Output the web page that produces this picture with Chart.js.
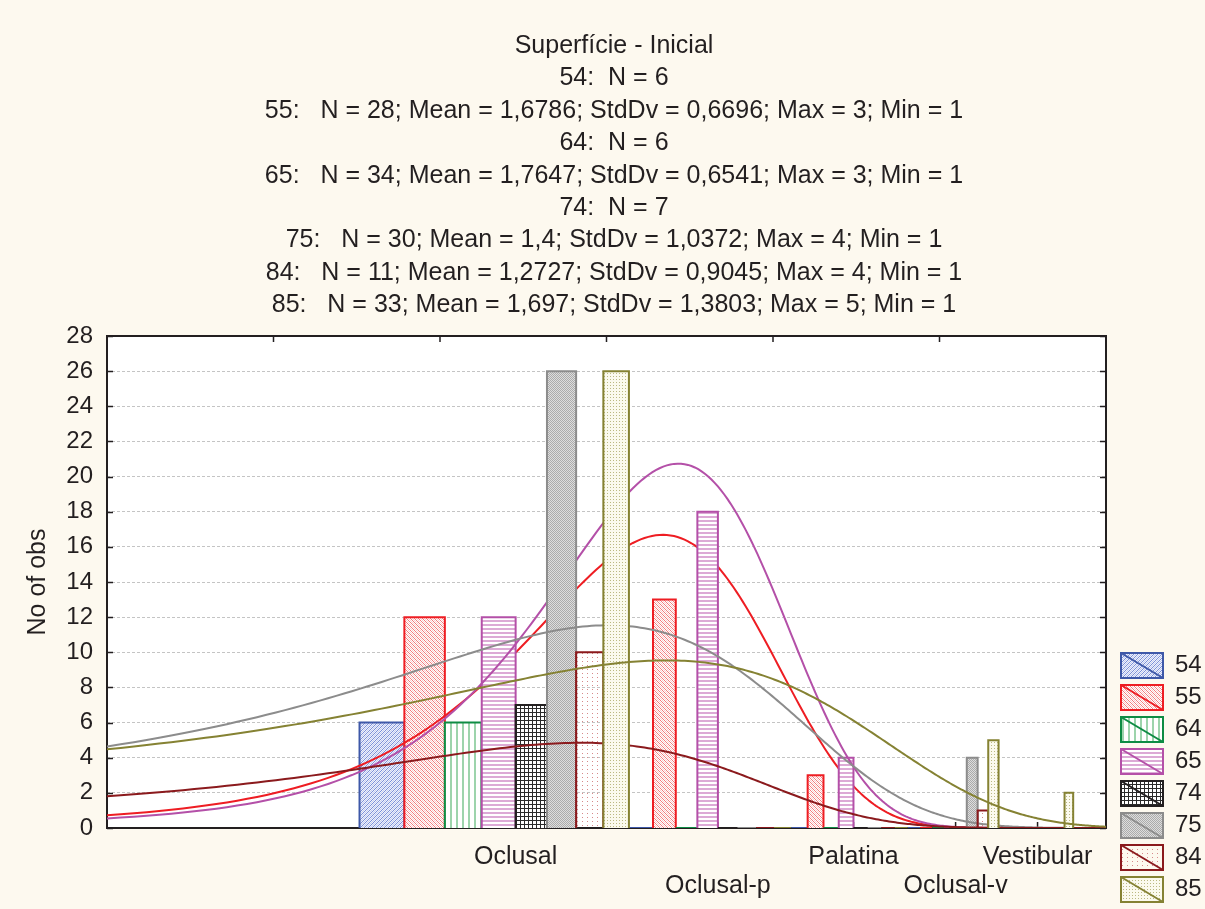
<!DOCTYPE html>
<html>
<head>
<meta charset="utf-8">
<script src="https://cdn.jsdelivr.net/npm/chart.js@4.4.1/dist/chart.umd.min.js"></script>
<style>
html, body { margin: 0; padding: 0; background: #fdf9ef; }
canvas { display: block; }
</style>
</head>
<body>
<canvas id="c" width="1205" height="909"></canvas>
<script>
// ---------------- data ----------------
const titleLines = [
  'Superfície - Inicial',
  '54:  N = 6',
  '55:   N = 28; Mean = 1,6786; StdDv = 0,6696; Max = 3; Min = 1',
  '64:  N = 6',
  '65:   N = 34; Mean = 1,7647; StdDv = 0,6541; Max = 3; Min = 1',
  '74:  N = 7',
  '75:   N = 30; Mean = 1,4; StdDv = 1,0372; Max = 4; Min = 1',
  '84:   N = 11; Mean = 1,2727; StdDv = 0,9045; Max = 4; Min = 1',
  '85:   N = 33; Mean = 1,697; StdDv = 1,3803; Max = 5; Min = 1'
];
const yAxisTitle = 'No of obs';
const categories = ['Oclusal', 'Oclusal-p', 'Palatina', 'Oclusal-v', 'Vestibular'];
const categoryValues = [1, 2, 3, 4, 5];
const seriesNames = ['54', '55', '64', '65', '74', '75', '84', '85'];

// counts per category (Oclusal, Oclusal-p, Palatina, Oclusal-v, Vestibular)
const counts54 = [6, 0, 0, 0, 0];
const counts55 = [12, 13, 3, 0, 0];
const counts64 = [6, 0, 0, 0, 0];
const counts65 = [12, 18, 4, 0, 0];
const counts74 = [7, 0, 0, 0, 0];
const counts75 = [26, 0, 0, 4, 0];
const counts84 = [10, 0, 0, 1, 0];
const counts85 = [26, 0, 0, 5, 2];

// normal-fit statistics printed in the title (null = no fit shown)
const fitN    = [null, 28,     null, 34,     null, 30,     11,     33];
const fitMean = [null, 1.6786, null, 1.7647, null, 1.4,    1.2727, 1.697];
const fitSd   = [null, 0.6696, null, 0.6541, null, 1.0372, 0.9045, 1.3803];

const yMin = 0, yMax = 28, yStep = 2;
const xMin = 0, xMax = 6;
const xAxisShift = 0.6; // the original x axis is log10(x + 0.6)

// ---------------- styling ----------------
const seriesCounts = [counts54, counts55, counts64, counts65, counts74, counts75, counts84, counts85];
const colors = ['#3e58a8', '#ee1d23', '#0e8c44', '#b450a8', '#231f20', '#8c8c8c', '#8b1a1d', '#858233'];
const textColor = '#231f20';

function makePattern(w, h, draw) {
  const c = document.createElement('canvas');
  c.width = w; c.height = h;
  const g = c.getContext('2d');
  draw(g, w, h);
  return g.createPattern(c, 'repeat');
}
function px(g, x, y, col) { g.fillStyle = col; g.fillRect(x, y, 1, 1); }

const patterns = [
  makePattern(4, 4, (g) => { g.fillStyle = '#eef1fb'; g.fillRect(0, 0, 4, 4);
    for (let i = 0; i < 4; i++) { px(g, i, 3 - i, '#7a8fd8'); px(g, i, (5 - i) % 4, '#c3ccf0'); } }),
  makePattern(4, 4, (g) => { g.fillStyle = '#fff'; g.fillRect(0, 0, 4, 4);
    for (let i = 0; i < 4; i++) { px(g, i, i, '#f27c7e'); px(g, i, (i + 2) % 4, '#f9cccd'); } }),
  makePattern(6, 1, (g) => { g.fillStyle = '#fff'; g.fillRect(0, 0, 6, 1); g.fillStyle = '#9dd4ac'; g.fillRect(0, 0, 2, 1); }),
  makePattern(1, 4, (g) => { g.fillStyle = '#fff'; g.fillRect(0, 0, 1, 4); g.fillStyle = '#dcaad6'; g.fillRect(0, 0, 1, 2); }),
  makePattern(4, 4, (g) => { g.fillStyle = '#fff'; g.fillRect(0, 0, 4, 4); g.fillStyle = '#2a2a2a'; g.fillRect(0, 0, 4, 1); g.fillRect(0, 0, 1, 4); }),
  makePattern(2, 2, (g) => { g.fillStyle = '#dddddd'; g.fillRect(0, 0, 2, 2); px(g, 0, 0, '#ababab'); px(g, 1, 1, '#ababab'); }),
  makePattern(5, 4, (g) => { px(g, 2, 1, '#d68a8a'); }),
  makePattern(3, 3, (g) => { g.fillStyle = '#fbfaee'; g.fillRect(0, 0, 3, 3); px(g, 1, 1, '#bbb982'); })
];

// ---------------- custom scale matching the original x axis ----------------
class ShiftedLogScale extends Chart.LinearScale {
  _u() {
    return [Math.log10(this.min + xAxisShift), Math.log10(this.max + xAxisShift)];
  }
  getPixelForValue(value) {
    if (value === null || value === undefined || isNaN(value)) return NaN;
    const [u0, u1] = this._u();
    return this.getPixelForDecimal((Math.log10(value + xAxisShift) - u0) / (u1 - u0));
  }
  getValueForPixel(pixel) {
    const [u0, u1] = this._u();
    const d = this.getDecimalForPixel(pixel);
    return Math.pow(10, u0 + d * (u1 - u0)) - xAxisShift;
  }
}
ShiftedLogScale.id = 'shiftedLog';
ShiftedLogScale.defaults = {};
Chart.register(ShiftedLogScale);

// ---------------- datasets ----------------
const slot = 1 / seriesNames.length;
const datasets = [];
let seq = 0;
seriesNames.forEach((name, s) => {
  const pts = [];
  categoryValues.forEach((cv, ci) => {
    const x0 = cv - 0.5 + s * slot, x1 = x0 + slot, h = seriesCounts[s][ci];
    pts.push({ x: x0, y: 0 }, { x: x0, y: h }, { x: x1, y: h }, { x: x1, y: 0 }, { x: x1, y: null });
  });
  datasets.push({
    type: 'line', label: name, data: pts,
    borderColor: colors[s], backgroundColor: patterns[s], borderWidth: 2,
    borderJoinStyle: 'miter', fill: 'origin', pointRadius: 0, pointHoverRadius: 0,
    tension: 0, spanGaps: false, order: -(seq++)
  });
  if (fitN[s] !== null) {
    const curve = [];
    const k = fitN[s] / (fitSd[s] * Math.sqrt(2 * Math.PI));
    for (let i = 0; i <= 300; i++) {
      const x = xMin + (xMax - xMin) * i / 300;
      const z = (x - fitMean[s]) / fitSd[s];
      curve.push({ x: x, y: k * Math.exp(-0.5 * z * z) });
    }
    datasets.push({
      type: 'line', label: name + ' fit', data: curve,
      borderColor: colors[s], borderWidth: 2, fill: false,
      pointRadius: 0, pointHoverRadius: 0, tension: 0, order: -(seq++)
    });
  }
});

// ---------------- decoration plugin ----------------
const decor = {
  id: 'decor',
  beforeDraw(chart) {
    const { ctx, chartArea: a } = chart;
    ctx.save();
    ctx.fillStyle = '#fdf9ef';
    ctx.fillRect(0, 0, chart.width, chart.height);
    ctx.fillStyle = '#ffffff';
    ctx.fillRect(a.left, a.top, a.width, a.height);
    ctx.restore();
  },
  beforeDatasetsDraw(chart) {
    const { ctx, chartArea: a } = chart;
    const xs = chart.scales.x, ys = chart.scales.y;
    ctx.save();
    ctx.strokeStyle = textColor;
    ctx.lineWidth = 2;
    ctx.strokeRect(a.left, a.top, a.width, a.height);
    ctx.lineWidth = 1.5;
    ctx.beginPath();
    ys.ticks.forEach(t => {
      const py = Math.round(ys.getPixelForValue(t.value)) + 0.5;
      ctx.moveTo(a.left, py); ctx.lineTo(a.left + 6, py);
      ctx.moveTo(a.right, py); ctx.lineTo(a.right - 6, py);
    });
    categoryValues.forEach(v => {
      const p = xs.getPixelForValue(v);
      ctx.moveTo(p, a.bottom); ctx.lineTo(p, a.bottom - 6);
    });
    for (let k = 1; k < 6; k++) {
      const p = a.left + k * a.width / 6;
      ctx.moveTo(p, a.top); ctx.lineTo(p, a.top + 6);
    }
    ctx.stroke();
    ctx.restore();
  },
  afterDraw(chart) {
    const { ctx } = chart;
    const lg = chart.legend;
    if (!lg || !lg.legendHitBoxes) return;
    ctx.save();
    ctx.lineWidth = 2;
    lg.legendHitBoxes.forEach((hb, i) => {
      ctx.strokeStyle = colors[i];
      ctx.beginPath();
      ctx.moveTo(hb.left, hb.top);
      ctx.lineTo(hb.left + 42, hb.top + 25);
      ctx.stroke();
    });
    ctx.restore();
  }
};

Chart.defaults.font.family = "'Liberation Sans', Arial, sans-serif";
Chart.defaults.font.size = 24;
Chart.defaults.color = textColor;

new Chart(document.getElementById('c'), {
  type: 'line',
  data: { datasets: datasets },
  plugins: [decor],
  options: {
    responsive: false,
    devicePixelRatio: 1,
    animation: false,
    events: [],
    layout: { padding: { left: 23, right: 0, top: 0, bottom: 0 } },
    scales: {
      x: {
        type: 'shiftedLog', min: xMin, max: xMax, position: 'bottom',
        grid: { display: false, drawTicks: false },
        border: { display: false },
        ticks: {
          autoSkip: false, maxRotation: 0, minRotation: 0, padding: 15,
          font: { size: 25, lineHeight: 1.16 }, color: textColor,
          callback: (v, i) => (i % 2 ? ['', categories[i]] : categories[i])
        },
        afterBuildTicks: sc => { sc.ticks = categoryValues.map(v => ({ value: v })); },
        afterFit: sc => { sc.height = 81; }
      },
      y: {
        type: 'linear', position: 'left', min: yMin, max: yMax,
        ticks: { stepSize: yStep, padding: 14, font: { size: 24 }, color: textColor },
        grid: {
          drawTicks: false, lineWidth: 1,
          color: c => (c.tick && (c.tick.value === yMin || c.tick.value === yMax)) ? 'rgba(0,0,0,0)' : '#c4c4c4'
        },
        border: { display: false, dash: [3, 2] },
        title: { display: true, text: yAxisTitle, font: { size: 25 }, color: textColor, padding: { top: 0, bottom: 0 } },
        afterFit: sc => { sc.width = 84; }
      },
      y2: {
        type: 'linear', position: 'right', display: true,
        grid: { display: false, drawTicks: false },
        border: { display: false },
        ticks: { display: false },
        afterFit: sc => { sc.width = 8; }
      }
    },
    plugins: {
      title: {
        display: true, text: titleLines, color: textColor,
        font: { size: 25, weight: 'normal', lineHeight: 1.296 },
        padding: { top: 30, bottom: 14.4 }
      },
      legend: {
        display: true, position: 'right', align: 'end', maxWidth: 91,
        labels: {
          boxWidth: 42, boxHeight: 25, padding: 7, font: { size: 24 }, color: textColor,
          generateLabels: () => seriesNames.map((n, i) => ({
            text: n, fillStyle: patterns[i], strokeStyle: colors[i], lineWidth: 2,
            hidden: false, fontColor: textColor
          }))
        }
      },
      tooltip: { enabled: false }
    }
  }
});
</script>
</body>
</html>
